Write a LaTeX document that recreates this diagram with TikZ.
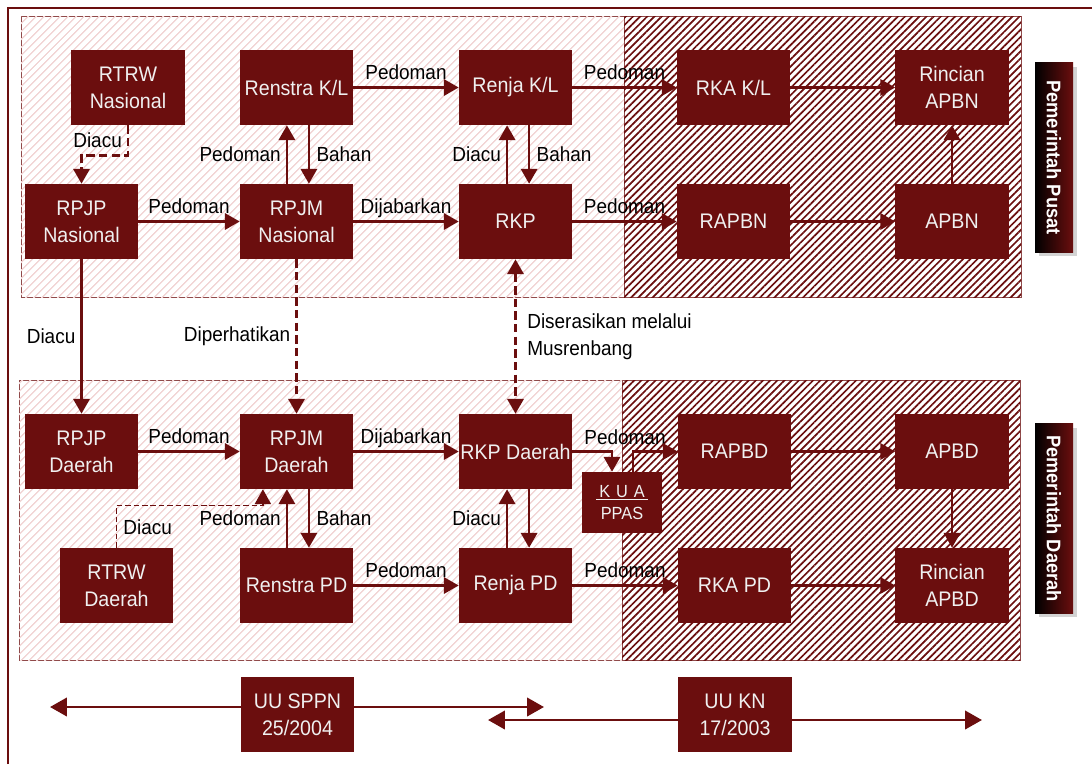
\documentclass[tikz,border=0pt]{standalone}
\usepackage{fontspec}
\setmainfont{Liberation Sans}[FakeStretch=0.93]
\usetikzlibrary{calc, positioning}
\usetikzlibrary{arrows.meta}
\usetikzlibrary{patterns.meta}
\usetikzlibrary{shadows}
\definecolor{merah}{HTML}{6B0E0E}
\definecolor{merahmuda}{HTML}{F2D6D6}

\begin{document}
\begin{tikzpicture}[x=0.025cm, y=-0.025cm,
  >={Triangle[length=10.5pt,width=11.5pt]},
  kotak/.style={fill=merah, text=white!94!black, minimum width=2.825cm, minimum height=1.875cm,
    inner sep=0pt, align=center, font=\fontsize{15}{19}\selectfont},
  lbl/.style={font=\fontsize{14.5}{19}\selectfont, inner sep=1.5pt, text=black},
  atas/.style={lbl, above=3pt, text depth=0pt},
  kiri/.style={lbl, left=2pt},
  kanan/.style={lbl, right=3pt},
  panah/.style={->, line width=1.8pt, merah},
  garisputus/.style={panah, dash pattern=on 6pt off 3pt},
  putustipis/.style={->, line width=0.9pt, merah, dash pattern=on 4pt off 2pt},
  panahbesar/.style={{Triangle[length=12pt,width=13pt]}-{Triangle[length=12pt,width=13pt]}, line width=2pt, merah},
  panelterang/.style={draw=merah!75, line width=0.6pt, fill=white, postaction={pattern={Lines[angle=45,distance=4pt,line width=1pt]}, pattern color=merahmuda}},
  panelgelap/.style={draw=merah!75, line width=0.6pt, fill=white, postaction={pattern={Lines[angle=45,distance=3.6pt,line width=1.2pt]}, pattern color=merah}},
  tab/.style={minimum width=0.95cm, minimum height=4.725cm, inner sep=0pt, left color=black, right color=merah,
    drop shadow={opacity=0.35, shadow xshift=3pt, shadow yshift=-3pt}},
  tekstab/.style={rotate=-90, text=white, font=\bfseries\fontsize{14}{16}\selectfont}]
\useasboundingbox (0,0) rectangle (1092,764);
\def\ya{87.5}
\def\yb{221.5}
\def\yc{451.5}
\def\yd{585.5}
% bingkai dan panel
\draw[merah, line width=0.8pt] (8,764) -- (8,8) -- (1092,8);
\draw[panelterang] (21,16) rectangle (624,297);
\draw[panelgelap] (624,16) rectangle (1021,297);
\draw[panelterang] (19,380) rectangle (622,660);
\draw[panelgelap] (622,380) rectangle (1020,660);
% pusat
\node[kotak] (RTRWn) at (128,\ya) {RTRW\\Nasional};
\node[kotak] (RenstraKL) at (296.5,\ya) {Renstra K/L};
\node[kotak] (RenjaKL) at (515.5,\ya) {Renja K/L};
\node[kotak] (RKAKL) at (733.5,\ya) {RKA K/L};
\node[kotak] (RincianAPBN) at (952,\ya) {Rincian\\APBN};
\node[kotak] (RPJPn) at (81.5,\yb) {RPJP\\Nasional};
\node[kotak] (RPJMn) at (296.5,\yb) {RPJM\\Nasional};
\node[kotak] (RKP) at (515.5,\yb) {RKP};
\node[kotak] (RAPBN) at (733.5,\yb) {RAPBN};
\node[kotak] (APBN) at (952,\yb) {APBN};
% daerah
\node[kotak] (RPJPd) at (81.5,\yc) {RPJP\\Daerah};
\node[kotak] (RPJMd) at (296.5,\yc) {RPJM\\Daerah};
\node[kotak] (RKPd) at (515.5,\yc) {RKP Daerah};
\node[kotak] (RAPBD) at (734.5,\yc) {RAPBD};
\node[kotak] (APBD) at (952,\yc) {APBD};
\node[kotak] (RTRWd) at (116.5,\yd) {RTRW\\Daerah};
\node[kotak] (RenstraPD) at (296.5,\yd) {Renstra PD};
\node[kotak] (RenjaPD) at (515.5,\yd) {Renja PD};
\node[kotak] (RKAPD) at (734.5,\yd) {RKA PD};
\node[kotak] (RincianAPBD) at (952,\yd) {Rincian\\APBD};
\node[kotak, minimum width=2cm, minimum height=1.525cm, font=\fontsize{12.5}{16}\selectfont] (KUA) at (622,502.5) {\underline{\,K\,\,U\,\,A\,}\\PPAS};
% panah pusat
\draw[garisputus] (RTRWn.south) -- node[kiri]{Diacu} ++(0,30) -| (RPJPn.north);
\draw[panah] (RPJPn) -- node[atas]{Pedoman} (RPJMn);
\draw[panah] ([xshift=-0.24cm]RPJMn.north) -- node[kiri]{Pedoman} ([xshift=-0.24cm]RenstraKL.south);
\draw[panah] ([xshift=0.31cm]RenstraKL.south) -- node[kanan]{Bahan} ([xshift=0.31cm]RPJMn.north);
\draw[panah] (RenstraKL) -- node[atas]{Pedoman} (RenjaKL);
\draw[panah] (RPJMn) -- node[atas]{Dijabarkan} (RKP);
\draw[panah] ([xshift=-0.21cm]RKP.north) -- node[kiri]{Diacu} ([xshift=-0.21cm]RenjaKL.south);
\draw[panah] ([xshift=0.34cm]RenjaKL.south) -- node[kanan]{Bahan} ([xshift=0.34cm]RKP.north);
\draw[panah] (RenjaKL) -- node[atas]{Pedoman} (RKAKL);
\draw[panah] (RKP) -- node[atas]{Pedoman} (RAPBN);
\draw[panah] (RKAKL) -- (RincianAPBN);
\draw[panah] (RAPBN) -- (APBN);
\draw[panah] (APBN) -- (RincianAPBN);
% antar pusat dan daerah
\draw[panah] (RPJPn) -- node[kiri]{Diacu} (RPJPd);
\draw[garisputus] (RPJMn) -- node[kiri]{Diperhatikan} (RPJMd);
\draw[garisputus, <->] (RKP) -- node[kanan, right=6pt, align=left]{Diserasikan melalui\\Musrenbang} (RKPd);
% panah daerah
\draw[panah] (RPJPd) -- node[atas]{Pedoman} (RPJMd);
\draw[panah] (RPJMd) -- node[atas]{Dijabarkan} (RKPd);
\draw[panah] (RKPd.east) -| ([xshift=-0.25cm]KUA.north);
\node[atas] (lblKUA) at ($(RKPd.east)!0.5!(RAPBD.west)$) {Pedoman};
\draw[panah] ([xshift=0.28cm]KUA.north) |- (RAPBD.west);
\draw[panah] (RAPBD) -- (APBD);
\draw[panah] (APBD) -- (RincianAPBD);
\draw[panah] ([xshift=-0.24cm]RenstraPD.north) -- node[kiri]{Pedoman} ([xshift=-0.24cm]RPJMd.south);
\draw[panah] ([xshift=0.31cm]RPJMd.south) -- node[kanan]{Bahan} ([xshift=0.31cm]RenstraPD.north);
\draw[panah] ([xshift=-0.21cm]RenjaPD.north) -- node[kiri]{Diacu} ([xshift=-0.21cm]RKPd.south);
\draw[panah] ([xshift=0.34cm]RKPd.south) -- ([xshift=0.34cm]RenjaPD.north);
\draw[panah] (RenstraPD) -- node[atas]{Pedoman} (RenjaPD);
\draw[panah] (RenjaPD) -- node[atas]{Pedoman} (RKAPD);
\draw[panah] (RKAPD) -- (RincianAPBD);
\draw[putustipis] (RTRWd.north) -- node[kanan]{Diacu} ++(0,-42) -| ([xshift=-0.84cm]RPJMd.south);
% undang-undang
\coordinate (a1) at (50,707);
\coordinate (b1) at (544,707);
\coordinate (a2) at (488,720);
\coordinate (b2) at (982,720);
\draw[panahbesar] (a1) -- (b1);
\draw[panahbesar] (a2) -- (b2);
\node[kotak] (UUSPPN) at (297.5,714.5) {UU SPPN\\25/2004};
\node[kotak] (UUKN) at (735,714.5) {UU KN\\17/2003};
% label samping
\node[tab] (tabPusat) at (1054,157.5) {};
\node[tekstab] (teksPusat) at (tabPusat) {Pemerintah Pusat};
\node[tab] (tabDaerah) at (1054,518.5) {};
\node[tekstab] (teksDaerah) at (tabDaerah) {Pemerintah Daerah};
\end{tikzpicture}
\end{document}
